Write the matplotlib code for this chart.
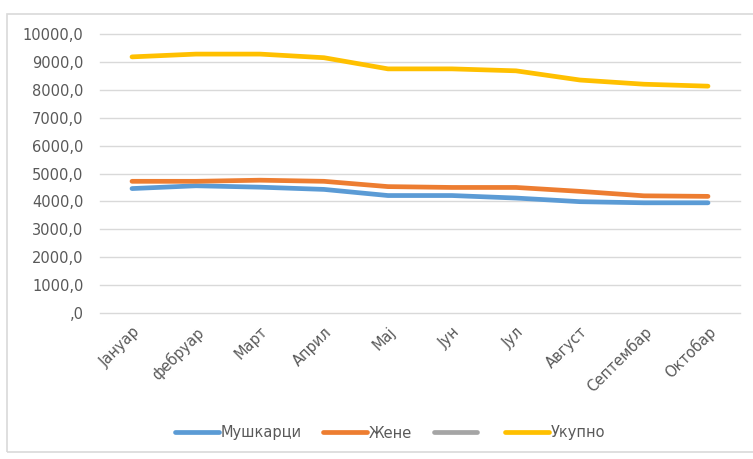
import matplotlib.pyplot as plt
from matplotlib.patches import Rectangle
from matplotlib.ticker import FuncFormatter

months = ['Јануар', 'фебруар', 'Март', 'Април', 'Мај', 'Јун', 'Јул', 'Август', 'Септембар', 'Октобар']
muskarci = [4460, 4560, 4510, 4430, 4210, 4210, 4120, 3990, 3950, 3950]
zene = [4720, 4720, 4760, 4720, 4530, 4500, 4500, 4360, 4200, 4180]
ukupno = [9180, 9280, 9280, 9150, 8750, 8750, 8680, 8350, 8200, 8130]

W, H = 753, 459
txt = '#595959'
plt.rcParams['font.family'] = ['DejaVu Sans']

fig = plt.figure(figsize=(W / 100, H / 100), dpi=100)
# outer chart frame, runs off the right edge like the screenshot
fig.patches.append(Rectangle((7 / W, 1 - 452 / H), (760 - 7) / W, (452 - 14) / H,
                             transform=fig.transFigure, fill=False,
                             edgecolor='#D9D9D9', linewidth=1.2))

ax = fig.add_axes([100 / W, 1 - 313 / H, (740 - 100) / W, (313 - 34) / H])
x = range(len(months))
ax.plot(x, muskarci, color='#5B9BD5', lw=3.4, solid_capstyle='round', label='Мушкарци')
ax.plot(x, zene, color='#ED7D31', lw=3.4, solid_capstyle='round', label='Жене')
ax.plot([], [], color='#A5A5A5', lw=3.4, solid_capstyle='round', label=' ')
ax.plot(x, ukupno, color='#FFC000', lw=3.4, solid_capstyle='round', label='Укупно')

ax.set_ylim(0, 10000)
ax.set_xlim(-0.5, len(months) - 0.5)
ax.set_yticks(range(0, 10001, 1000))


def fmt(v, pos):
    if v == 0:
        return ',0'
    return '%d,0' % v


ax.yaxis.set_major_formatter(FuncFormatter(fmt))
ax.grid(axis='y', color='#D9D9D9', lw=1)
for gl in ax.get_ygridlines():
    gl.set_clip_on(False)
ax.set_axisbelow(True)
for s in ax.spines.values():
    s.set_visible(False)
ax.tick_params(length=0, colors=txt, labelsize=10.5)
ax.tick_params(axis='y', pad=12)
ax.set_xticks(list(x))
ax.set_xticklabels(months, rotation=45, ha='right', rotation_mode='anchor')
ax.tick_params(axis='x', pad=8)

leg = fig.legend(loc='center', bbox_to_anchor=(390 / W, 1 - 433 / H), ncol=4,
                 frameon=False, fontsize=10.5, handlelength=3, handletextpad=0.1,
                 columnspacing=1.5, labelcolor=txt)

fig.savefig('out.png', dpi=100)
